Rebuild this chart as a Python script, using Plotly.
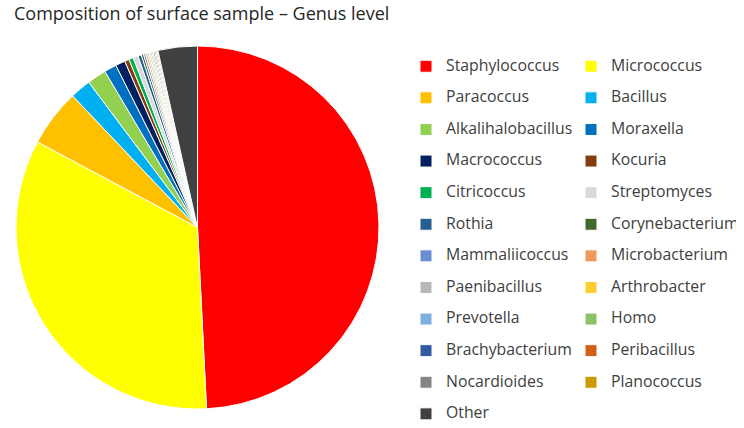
import plotly.graph_objects as go

genera = ["Staphylococcus", "Micrococcus", "Paracoccus", "Bacillus", "Alkalihalobacillus",
          "Moraxella", "Macrococcus", "Kocuria", "Citricoccus", "Streptomyces", "Rothia",
          "Corynebacterium", "Mammaliicoccus", "Microbacterium", "Paenibacillus", "Arthrobacter",
          "Prevotella", "Homo", "Brachybacterium", "Peribacillus", "Nocardioides", "Planococcus",
          "Other"]
abundance = [49.2, 33.6, 5.1, 1.86, 1.7, 1.1, 0.86, 0.4, 0.4, 0.45, 0.3,
             0.2, 0.18, 0.16, 0.15, 0.14, 0.13, 0.12, 0.12, 0.11, 0.1, 0.1,
             3.5]
colors = ["#FF0000", "#FFFF00", "#FFC000", "#00B0F0", "#92D050", "#0070C0", "#002060",
          "#843C0C", "#00B050", "#D9D9D9", "#255E91", "#43682B", "#698ED0", "#F1975A",
          "#B7B7B7", "#FFCD33", "#7CAFDD", "#8BC168", "#335AA1", "#D26012", "#848484",
          "#CC9A00", "#404040"]

W, H = 744, 428
L, R = 16, 365

labels = ['<span style="font-size:15.8px">%s</span><br>&nbsp;' % g for g in genera]

fig = go.Figure(go.Pie(
    labels=labels, values=abundance, sort=False, direction="clockwise", rotation=0,
    marker=dict(colors=colors, line=dict(color="white", width=1)),
    textinfo="none", hoverinfo="skip",
    domain=dict(x=[0, 1], y=[19 / H, 1 - 46 / H]),
))

legend = dict(orientation="h", x=1 + (406 - 379) / 363, xanchor="left",
              y=1 - 52.6 / H, yanchor="top", entrywidth=120, entrywidthmode="pixels",
              valign="top", font=dict(size=11, color="#404040", family="Open Sans"),
              bgcolor="rgba(0,0,0,0)")

fig.update_layout(
    width=W, height=H,
    margin=dict(l=L, r=R, t=0, b=0, autoexpand=False),
    paper_bgcolor="white", plot_bgcolor="white",
    font=dict(family="Open Sans", color="#404040"),
    title=dict(text="Composition of surface sample – Genus level", x=14 / W, xanchor="left",
               xref="container", yref="container", y=1 - 14 / H, yanchor="middle",
               font=dict(size=18, color="#262626", family="Open Sans")),
    legend=legend,
    showlegend=True,
)
try:
    fig.update_layout(legend_maxheight=1000)
except Exception:
    pass

fig.write_html("out.html")
